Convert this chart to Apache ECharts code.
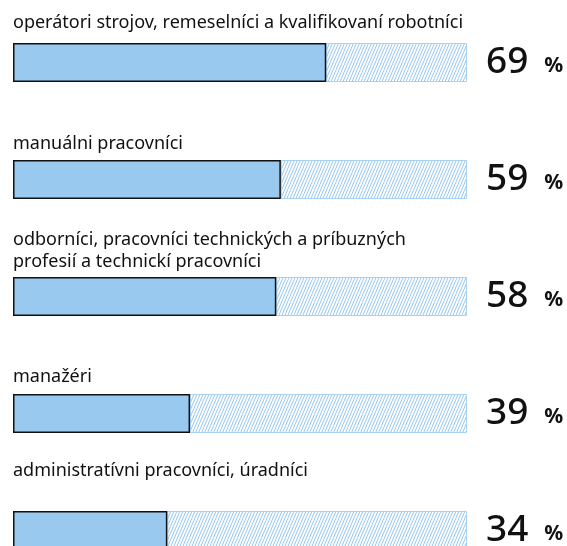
<!DOCTYPE html>
<html>
<head>
<meta charset="utf-8">
<title>chart</title>
<script src="https://cdn.jsdelivr.net/npm/echarts@6/dist/echarts.min.js"></script>
<style>
  html, body { margin: 0; padding: 0; background: #fff; }
  #chart { width: 567px; height: 546px; }
</style>
</head>
<body>
<div id="chart"></div>
<script>
  // data
  var categories = [
    'operátori strojov, remeselníci a kvalifikovaní robotníci',
    'manuálni pracovníci',
    'odborníci, pracovníci technických a príbuzných\nprofesií a technickí pracovníci',
    'manažéri',
    'administratívni pracovníci, úradníci'
  ];
  var values = [69, 59, 58, 39, 34];
  var rest = values.map(function (v) { return 100 - v; });

  // space between name label and its bar
  var labelGap = [9, 5, 4, 6, 29];

  // hatch pattern for the remaining part
  var pat = document.createElement('canvas');
  pat.width = 3; pat.height = 7;
  var ctx = pat.getContext('2d');
  ctx.fillStyle = '#fff';
  ctx.fillRect(0, 0, 3, 7);
  ctx.strokeStyle = '#94c6ee';
  ctx.lineWidth = 1;
  [-3, 0, 3].forEach(function (dx) {
    ctx.beginPath();
    ctx.moveTo(dx, 7);
    ctx.lineTo(dx + 3, 0);
    ctx.stroke();
  });

  var chart = echarts.init(document.getElementById('chart'));

  var option = {
    animation: false,
    grid: { left: 13, top: 4, width: 454, height: 585, outerBoundsMode: 'none' },
    xAxis: { type: 'value', min: 0, max: 100, show: false },
    yAxis: { type: 'category', data: categories, inverse: true, show: false },
    series: [
      {
        type: 'bar',
        stack: 'a',
        barWidth: 39,
        data: values.map(function (v, i) {
          return { value: v, label: { position: [0, -labelGap[i]] } };
        }),
        itemStyle: { color: '#99c9ee', borderColor: '#111', borderWidth: 1.5 },
        label: {
          show: true,
          align: 'left',
          verticalAlign: 'bottom',
          fontFamily: 'Noto Sans',
          fontSize: 18,
          lineHeight: 22,
          color: '#111',
          formatter: function (p) { return categories[p.dataIndex]; }
        },
        z: 3
      },
      {
        type: 'bar',
        stack: 'a',
        barWidth: 39,
        data: rest,
        itemStyle: {
          color: { image: pat, repeat: 'repeat' },
          borderColor: '#a9d2f2',
          borderWidth: 1
        },
        label: {
          show: true,
          position: 'right',
          distance: 19,
          formatter: function (p) { return '{a|' + values[p.dataIndex] + '}{b|%}'; },
          rich: {
            a: { fontFamily: 'Noto Sans', fontSize: 37, fontWeight: 500, color: '#111' },
            b: { fontFamily: 'Noto Sans', fontSize: 21, fontWeight: 'bold', color: '#111', padding: [8, 0, 0, 16] }
          }
        }
      }
    ]
  };
  chart.setOption(option);
</script>
</body>
</html>
